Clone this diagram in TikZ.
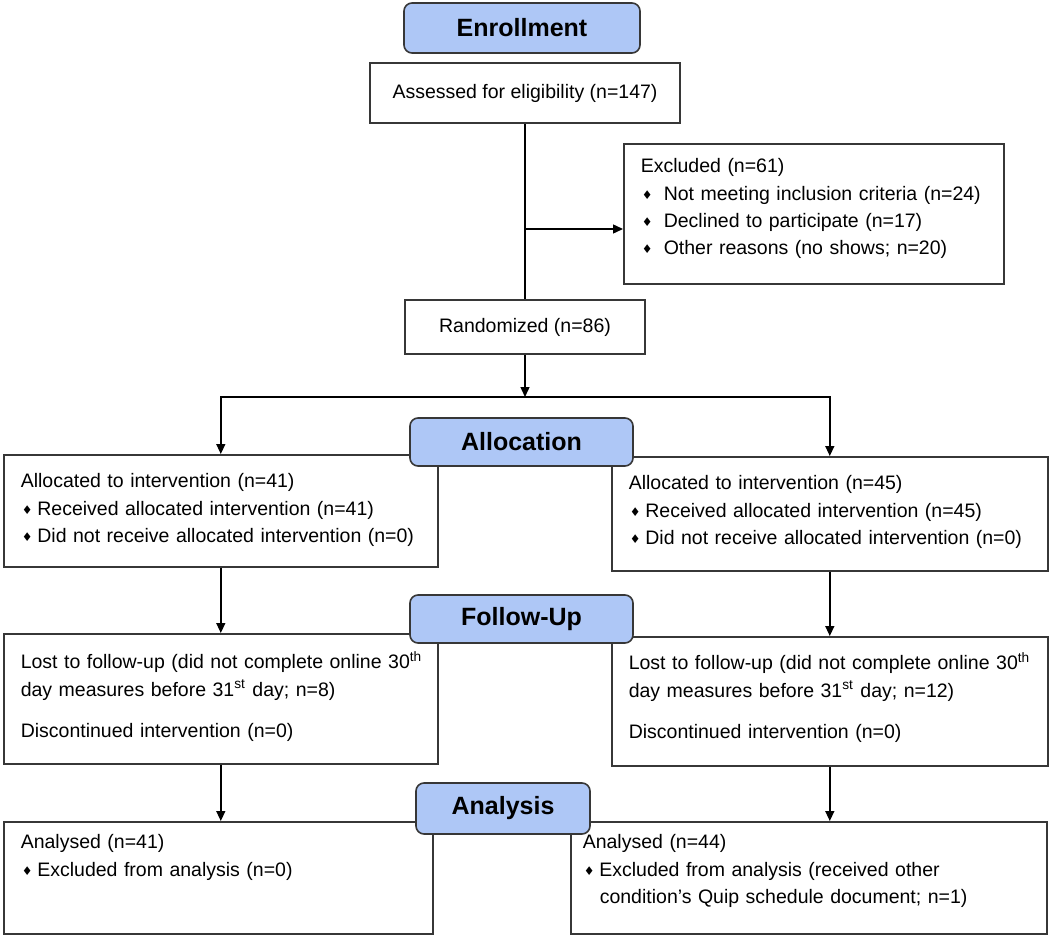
\documentclass[tikz,border=0pt]{standalone}
\usepackage{fontspec}
\setmainfont{Liberation Sans}
\newfontfamily\symfont{DejaVu Sans}
\usetikzlibrary{arrows.meta}
\definecolor{hdrblue}{RGB}{174,199,246}
\definecolor{edgegray}{RGB}{55,55,55}
\newcommand{\bul}[1][2.4pt]{\hspace*{0.5pt}\raisebox{0.5pt}{\symfont\fontsize{6}{6}\selectfont ♦}\hspace{#1}}

\begin{document}
\begin{tikzpicture}
  [x=0.5pt,y=-0.5pt,
   every node/.style={font=\fontsize{9.75}{13.6}\selectfont},
   hdr/.style={draw=edgegray,fill=hdrblue,rounded corners=4pt,line width=0.8pt,inner sep=0pt,
     font=\fontsize{12.5}{15}\selectfont\bfseries},
   plain/.style={draw=edgegray,line width=0.8pt,inner sep=0pt},
   box/.style={draw=edgegray,line width=0.8pt,anchor=north west,align=left,inner xsep=8.5pt,inner ysep=0pt,
     execute at begin node={\rightskip=0pt plus 1fil minus 40pt}},
   arr/.style={line width=0.7pt,-{Triangle[length=5pt,width=4.5pt]}}]
  \useasboundingbox (0,0) rectangle (1050,937);

  \node (enroll)[hdr,minimum width=118pt,minimum height=25pt] at (522,28) {Enrollment};
  \node (assess)[plain,minimum width=155pt,minimum height=30pt] at (525,93) {Assessed for eligibility (n=147)};
  \node (excl)[box,text width=173pt,text height=14.5pt,text depth=55.5pt] at (623,143)
    {Excluded (n=61)\\ \bul[5.6pt]Not meeting inclusion criteria (n=24)\\
     \bul[5.6pt]Declined to participate (n=17)\\ \bul[5.6pt]Other reasons (no shows; n=20)};
  \node (rand)[plain,minimum width=120pt,minimum height=27pt] at (525,327) {Randomized (n=86)};

  \node (allocL)[box,text width=200pt,text height=16.5pt,text depth=39.5pt] at (3,454)
    {Allocated to intervention (n=41)\\ \bul Received allocated intervention (n=41)\\
     \bul Did not receive allocated intervention (n=0)};
  \node (allocR)[box,text width=201pt,text height=16.5pt,text depth=40.5pt] at (611,456)
    {Allocated to intervention (n=45)\\ \bul Received allocated intervention (n=45)\\
     \bul Did not receive allocated intervention (n=0)};

  \node (lostL)[box,text width=200pt,text height=17.5pt,text depth=47.5pt] at (3,633)
    {Lost to follow-up (did not complete online 30\textsuperscript{th}\\
     day measures before 31\textsuperscript{st} day; n=8)\\[7pt]
     Discontinued intervention (n=0)};
  \node (lostR)[box,text width=201pt,text height=16.5pt,text depth=48pt] at (611,636)
    {Lost to follow-up (did not complete online 30\textsuperscript{th}\\
     day measures before 31\textsuperscript{st} day; n=12)\\[7pt]
     Discontinued intervention (n=0)};

  \node (anaL)[box,text width=197.5pt,text height=13.5pt,text depth=42.5pt] at (3,821)
    {Analysed (n=41)\\ \bul Excluded from analysis (n=0)};
  \node (anaR)[box,inner xsep=6pt,text width=226pt,text height=13.5pt,text depth=42.5pt] at (570,821)
    {Analysed (n=44)\\ \bul Excluded from analysis (received other\\
     \hspace*{8.5pt}condition’s Quip schedule document; n=1)};

  % phase headers on top of the boxes
  \node (alloc)[hdr,minimum width=111.5pt,minimum height=24pt] at (521.5,442) {Allocation};
  \node (follow)[hdr,minimum width=111.5pt,minimum height=24pt] at (521.5,619) {Follow-Up};
  \node (analysis)[hdr,minimum width=87pt,minimum height=25.5pt] at (503,808.5) {Analysis};

  \coordinate (exbr) at (525,229);
  \coordinate (split) at (525,397);

  \draw[line width=0.7pt] (assess) -- (rand);
  \draw[arr] (exbr) -- (exbr -| excl.west);
  \draw[arr] (rand) -- (split);
  \draw[arr] (split) -| (allocL.north);
  \draw[arr] (split) -| (allocR.north);
  \draw[arr] (allocL) -- (lostL);
  \draw[arr] (allocR) -- (lostR);
  \draw[arr] (lostL.south) -- (lostL.south |- anaL.north);
  \draw[arr] (lostR.south) -- (lostR.south |- anaR.north);

\end{tikzpicture}
\end{document}
